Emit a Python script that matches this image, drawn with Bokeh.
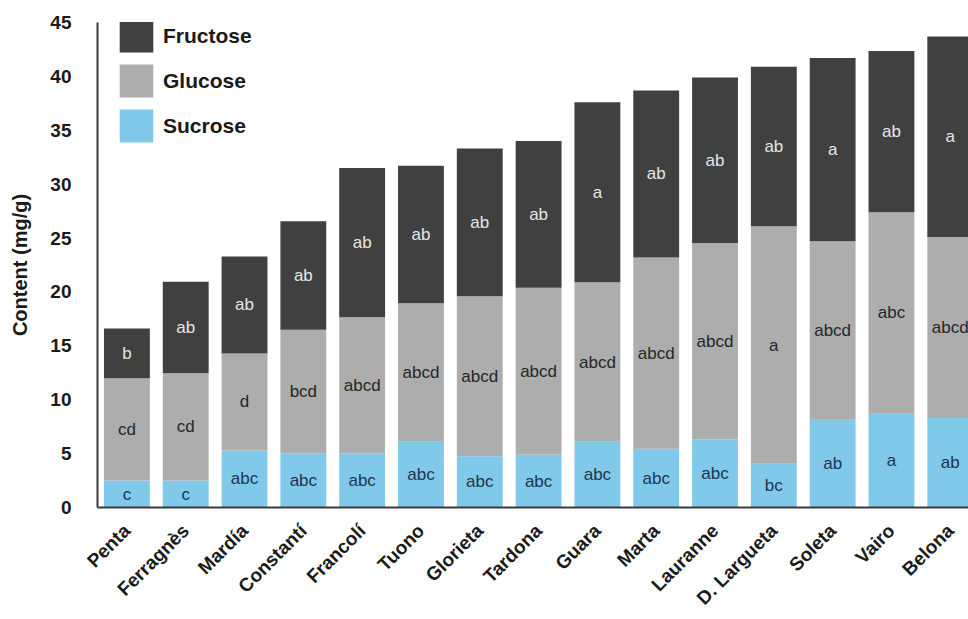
import math
from bokeh.plotting import figure
from bokeh.models import (ColumnDataSource, Range1d, FixedTicker, Legend, LegendItem)
from bokeh.core.properties import value
from bokeh.embed import file_html
from bokeh.resources import INLINE

cultivars = ["Penta", "Ferragnès", "Mardía", "Constantí", "Francolí", "Tuono", "Glorieta",
             "Tardona", "Guara", "Marta", "Lauranne", "D. Largueta", "Soleta", "Vairo", "Belona"]
sucrose = [2.5, 2.5, 5.3, 5.0, 5.0, 6.1, 4.75, 4.9, 6.1, 5.45, 6.3, 4.05, 8.2, 8.7, 8.3]
glucose = [9.5, 9.95, 9.0, 11.5, 12.65, 12.85, 14.85, 15.5, 14.8, 17.75, 18.25, 22.05, 16.5, 18.7, 16.8]
fructose = [4.6, 8.5, 9.0, 10.05, 13.85, 12.75, 13.7, 13.6, 16.7, 15.5, 15.35, 14.8, 17.0, 14.95, 18.6]

fru_letters = ["b", "ab", "ab", "ab", "ab", "ab", "ab", "ab", "a", "ab", "ab", "ab", "a", "ab", "a"]
glu_letters = ["cd", "cd", "d", "bcd", "abcd", "abcd", "abcd", "abcd", "abcd", "abcd", "abcd",
               "a", "abcd", "abc", "abcd"]
suc_letters = ["c", "c", "abc", "abc", "abc", "abc", "abc", "abc", "abc", "abc", "abc",
               "bc", "ab", "a", "ab"]

y_ticks = [0, 5, 10, 15, 20, 25, 30, 35, 40, 45]

C_FRU = "#404040"
C_GLU = "#adadad"
C_SUC = "#80c9ea"

xs = list(range(len(cultivars)))
src = ColumnDataSource(dict(
    x=xs, Sucrose=sucrose, Glucose=glucose, Fructose=fructose,
    suc_mid=[s / 2 for s in sucrose],
    glu_mid=[s + g / 2 for s, g in zip(sucrose, glucose)],
    fru_mid=[s + g + f / 2 for s, g, f in zip(sucrose, glucose, fructose)],
    suc_lab=suc_letters, glu_lab=glu_letters, fru_lab=fru_letters,
))

p = figure(width=968, height=619, output_backend="svg", toolbar_location=None,
           x_range=Range1d(-0.5, 14.31), y_range=Range1d(0, 45),
           min_border_left=97, min_border_right=0, min_border_top=22, min_border_bottom=112)
p.outline_line_color = None
p.background_fill_color = "white"
p.border_fill_color = "white"
p.xgrid.visible = False
p.ygrid.visible = False

rs = p.vbar_stack(["Sucrose", "Glucose", "Fructose"], x="x", width=0.78, source=src,
                  color=[C_SUC, C_GLU, C_FRU], line_color=None)

FONT_LAB = value("Liberation Sans")
p.text(x="x", y="suc_mid", text="suc_lab", source=src, text_align="center",
       text_baseline="middle", text_font=FONT_LAB, text_font_size="17px", text_color="#1c3650")
p.text(x="x", y="glu_mid", text="glu_lab", source=src, text_align="center",
       text_baseline="middle", text_font=FONT_LAB, text_font_size="17px", text_color="#262626")
p.text(x="x", y="fru_mid", text="fru_lab", source=src, text_align="center",
       text_baseline="middle", text_font=FONT_LAB, text_font_size="17px", text_color="#e6e6e6")

# y axis
p.yaxis.ticker = FixedTicker(ticks=y_ticks)
p.yaxis.axis_label = "Content (mg/g)"
p.yaxis.axis_label_text_font = "Liberation Sans"
p.yaxis.axis_label_text_font_style = "bold"
p.yaxis.axis_label_text_font_size = "20px"
p.yaxis.axis_label_text_color = "#1a1a1a"
p.yaxis.axis_label_standoff = 16
p.yaxis.major_label_text_font = "Liberation Sans"
p.yaxis.major_label_text_font_style = "bold"
p.yaxis.major_label_text_font_size = "19px"
p.yaxis.major_label_text_color = "#1a1a1a"
p.yaxis.major_label_standoff = 20
p.yaxis.major_tick_line_color = None
p.yaxis.minor_tick_line_color = None
p.yaxis.axis_line_color = "#3a3a3a"
p.yaxis.axis_line_width = 2

# x axis
p.xaxis.ticker = FixedTicker(ticks=xs)
p.xaxis.major_label_overrides = {i: c for i, c in zip(xs, cultivars)}
p.xaxis.major_label_orientation = math.pi / 4
p.xaxis.major_label_text_font = "Liberation Sans"
p.xaxis.major_label_text_font_style = "bold"
p.xaxis.major_label_text_font_size = "19px"
p.xaxis.major_label_text_color = "#1a1a1a"
p.xaxis.major_label_standoff = 14
p.xaxis.major_tick_line_color = None
p.xaxis.minor_tick_line_color = None
p.xaxis.axis_line_color = "#3a3a3a"
p.xaxis.axis_line_width = 2

legend = Legend(items=[LegendItem(label="Fructose", renderers=[rs[2]]),
                       LegendItem(label="Glucose", renderers=[rs[1]]),
                       LegendItem(label="Sucrose", renderers=[rs[0]])],
                location=(18, 361), orientation="vertical")
legend.glyph_width = 42
legend.glyph_height = 41
legend.spacing = 4
legend.padding = 0
legend.margin = 0
legend.label_standoff = 6
legend.label_text_font = "Liberation Sans"
legend.label_text_font_style = "bold"
legend.label_text_font_size = "21px"
legend.label_text_color = "#1a1a1a"
legend.border_line_color = None
legend.background_fill_alpha = 0
p.add_layout(legend)

open("out.html", "w").write(file_html(p, INLINE))
